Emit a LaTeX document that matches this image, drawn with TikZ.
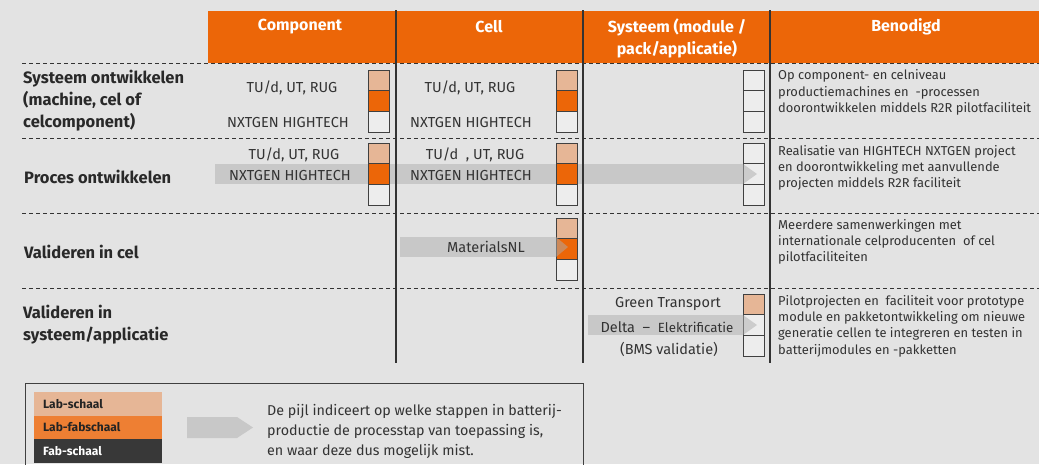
\documentclass[tikz,border=0pt]{standalone}
\usepackage{fontspec}
\setmainfont{Fira Sans}
\definecolor{bg}{HTML}{E3E3E3}
\definecolor{hdr}{HTML}{EC6608}
\definecolor{lab}{HTML}{E6B696}
\definecolor{labfab}{HTML}{EE7F33}
\definecolor{fab}{HTML}{383838}
\definecolor{emp}{HTML}{EDEDED}
\definecolor{barc}{HTML}{C8C8C8}
\definecolor{headc}{HTML}{ADADAD}
\definecolor{txt}{HTML}{333333}
\definecolor{lines}{HTML}{333333}
\newcommand\stackcol[6]{%
  \node[cellbox,fill=#4] (#1a) at (#2,#3) {};
  \node[cellbox,fill=#5,anchor=north] (#1b) at (#1a.south) {};
  \node[cellbox,fill=#6,anchor=north] (#1c) at (#1b.south) {};}
\tikzset{
  cellbox/.style={draw=black!75, line width=0.7pt, minimum width=21, minimum height=20.7,
    inner sep=0, outer sep=0, anchor=north west},
  lbl/.style={font=\fontsize{14.5}{16}\selectfont, text=txt, inner sep=0},
  hdrtxt/.style={font=\bfseries\fontsize{16}{22}\selectfont, text=white, align=center, inner sep=0},
  rowlbl/.style={font=\bfseries\fontsize{16.5}{22}\selectfont, text=txt!80!black, align=left, anchor=west, inner sep=0},
  ben/.style={font=\fontsize{12.9}{16.3}\selectfont, text=txt, align=left, anchor=west, inner sep=0},
  dline/.style={draw=lines, line width=0.8pt, dash pattern=on 4pt off 3pt},
  vline/.style={draw=lines, line width=1.1pt},
  barbody/.style={fill=barc},
  barhead/.style={fill=headc, fill opacity=0.5},
  legblk/.style={font=\bfseries\fontsize{12}{12}\selectfont, anchor=west, inner sep=0},
  legtxt/.style={font=\fontsize{14.3}{20}\selectfont, text=txt, align=left, anchor=west, inner sep=0}
}
\begin{document}
\begin{tikzpicture}[x=1pt,y=-1pt]
\useasboundingbox[fill=bg] (0,0) rectangle (1039,464);
% header
\fill[hdr] (208,11) rectangle (1039,63);
% bar bodies
\fill[barbody] (215,164) rectangle (743,184);
\fill[barbody] (400,237) rectangle (556,257);
\fill[barbody] (588,315) rectangle (743,335);
% dashed lines
\foreach \yy in {63,138,213,288} \draw[dline] (22,\yy) -- (1039,\yy);
% vertical lines
\foreach \xx in {396,583,770} \draw[vline] (\xx,10) -- (\xx,363);
% stacks
\stackcol{s1}{368}{70}{lab}{hdr}{emp}
\stackcol{s2}{556}{70}{lab}{hdr}{emp}
\stackcol{s3}{743}{70}{emp}{emp}{emp}
\stackcol{s4}{368}{143}{lab}{hdr}{emp}
\stackcol{s5}{556}{143}{lab}{hdr}{emp}
\stackcol{s6}{743}{143}{emp}{emp}{emp}
\stackcol{s7}{556}{218}{lab}{hdr}{emp}
\stackcol{s8}{743}{294}{lab}{emp}{emp}
% arrow heads
\fill[barhead] (743,164) -- (757,174) -- (743,184) -- cycle;
\fill[barhead] (556,237) -- (568,247) -- (556,257) -- cycle;
\fill[barhead] (743,315) -- (757,325) -- (743,335) -- cycle;
% header text
\node[hdrtxt] (h1) at (300,27) {Component};
\node[hdrtxt] (h2) at (489,27) {Cell};
\node[hdrtxt] (h3) at (677,38) {Systeem (module /\\pack/applicatie)};
\node[hdrtxt] (h4) at (906,27) {Benodigd};
% row labels
\node[rowlbl] (r1) at (23,101) {Systeem ontwikkelen\\(machine, cel of\\celcomponent)};
\node[rowlbl] (r2) at (24,177) {Proces ontwikkelen};
\node[rowlbl] (r3) at (24,252) {Valideren in cel};
\node[rowlbl] (r4) at (23,325) {Valideren in\\systeem/applicatie};
% row 1 contents
\node[lbl] (t1a) at (292,88) {TU/d, UT, RUG};
\node[lbl] (t1b) at (288,123) {NXTGEN HIGHTECH};
\node[lbl] (t1c) at (470,88) {TU/d, UT, RUG};
\node[lbl] (t1d) at (471,123) {NXTGEN HIGHTECH};
% row 2 contents
\node[lbl] (t2a) at (294,155) {TU/d, UT, RUG};
\node[lbl] (t2b) at (290,175) {NXTGEN HIGHTECH};
\node[lbl] (t2c) at (475,155) {TU/d\ \ , UT, RUG};
\node[lbl] (t2d) at (471,175) {NXTGEN HIGHTECH};
% row 3
\node[lbl] (t3a) at (486,247) {MaterialsNL};
% row 4
\node[lbl] (t4a) at (668,304) {Green Transport};
\node[lbl] (t4b) at (667,327) {Delta\ \ --\ \ {\fontsize{13.3}{14}\selectfont Elektrificatie}};
\node[lbl] (t4c) at (669,349) {(BMS validatie)};
% benodigd
\node[ben] (b1) at (778,92.5) {Op component- en celniveau\\productiemachines en\ \ -processen\\doorontwikkelen middels R2R pilotfaciliteit};
\node[ben] (b2) at (778,168) {Realisatie van HIGHTECH NXTGEN project\\en doorontwikkeling met aanvullende\\projecten middels R2R faciliteit};
\node[ben] (b3) at (778,242) {Meerdere samenwerkingen met\\internationale celproducenten\ \ of cel\\pilotfaciliteiten};
\node[ben] (b4) at (778,326) {Pilotprojecten en\ \ faciliteit voor prototype\\module en pakketontwikkeling om nieuwe\\generatie cellen te integreren en testen in\\batterijmodules en -pakketten};
% legend
\draw[draw=black!75, line width=1pt] (25,470) -- (25,383) -- (583,383) -- (583,470);
\fill[lab] (34,392) rectangle (162,416);
\fill[labfab] (34,416) rectangle (162,439);
\fill[fab] (34,439) rectangle (162,463);
\node[legblk, text=txt!70!black] (l1) at (43,404) {Lab-schaal};
\node[legblk, text=txt!70!black] (l2) at (43,427.5) {Lab-fabschaal};
\node[legblk, text=white] (l3) at (43,451) {Fab-schaal};
\fill[barc] (187,417) -- (237,417) -- (253,427.5) -- (237,438) -- (187,438) -- cycle;
\node[legtxt] (lt) at (267,431) {De pijl indiceert op welke stappen in batterij-\\productie de processtap van toepassing is,\\en waar deze dus mogelijk mist.};
\end{tikzpicture}
\end{document}
